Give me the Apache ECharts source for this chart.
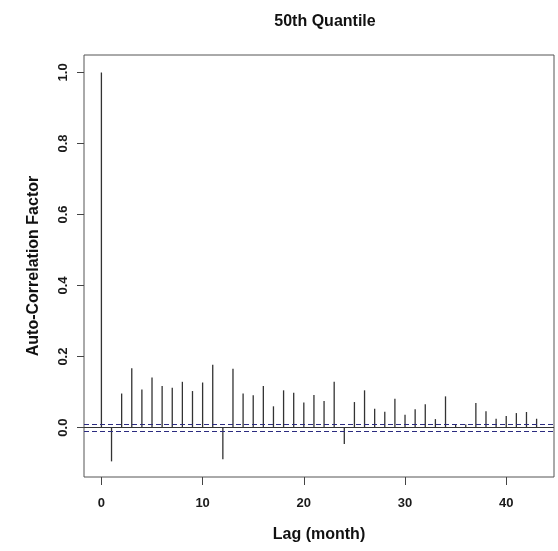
<!DOCTYPE html>
<html><head><meta charset="utf-8">
<script src="https://cdn.jsdelivr.net/npm/echarts@6/dist/echarts.min.js"></script>
<style>html,body{margin:0;padding:0;background:#fff}#c{width:558px;height:551px}</style>
</head><body><div id="c"></div>
<script>
const titleText = '50th Quantile';
const xName = 'Lag (month)';
const yName = 'Auto-Correlation Factor';
const lags = [0,1,2,3,4,5,6,7,8,9,10,11,12,13,14,15,16,17,18,19,20,21,22,23,24,25,26,27,28,29,30,31,32,33,34,35,36,37,38,39,40,41,42,43];
const acf = [1.0,-0.095,0.096,0.167,0.107,0.141,0.117,0.112,0.129,0.103,0.127,0.177,-0.089,0.166,0.096,0.091,0.117,0.060,0.105,0.098,0.071,0.092,0.075,0.129,-0.046,0.072,0.105,0.053,0.045,0.081,0.036,0.052,0.066,0.024,0.088,0.008,0.009,0.069,0.046,0.025,0.033,0.041,0.044,0.025];
const ciBound = 0.013;
const xTicks = [0,10,20,30,40];
const yTicks = [0,0.2,0.4,0.6,0.8,1.0];

const chart = echarts.init(document.getElementById('c'));
const font = 'Liberation Sans, Arial, sans-serif';
chart.setOption({
  backgroundColor: '#fff',
  animation: false,
  title: { text: titleText, left: 320, top: 9, textAlign: 'center',
    textStyle: { fontFamily: font, fontSize: 16, fontWeight: 'bold', color: '#111' } },
  grid: { left: 84, right: 4, top: 55, bottom: 74, show: true, borderColor: '#555', borderWidth: 1, backgroundColor: 'transparent' },
  xAxis: {
    type: 'value', min: -1.72, max: 44.72,
    name: xName, nameLocation: 'middle', nameGap: 50,
    nameTextStyle: { fontFamily: font, fontSize: 16, fontWeight: 'bold', color: '#111' },
    axisLine: { show: false, onZero: false },
    splitLine: { show: false },
    axisTick: { show: true, inside: false, length: 8, customValues: xTicks, lineStyle: { color: '#444' } },
    axisLabel: { customValues: xTicks, margin: 20, fontFamily: font, fontSize: 13, fontWeight: 'bold', color: '#1a1a1a',
      formatter: v => String(v) }
  },
  yAxis: {
    type: 'value', min: -0.139, max: 1.049,
    name: yName, nameLocation: 'middle', nameGap: 42, nameRotate: 90,
    nameTextStyle: { fontFamily: font, fontSize: 16, fontWeight: 'bold', color: '#111' },
    axisLine: { show: false, onZero: false },
    splitLine: { show: false },
    axisTick: { show: true, inside: false, length: 7, customValues: yTicks, lineStyle: { color: '#444' } },
    axisLabel: { customValues: yTicks, rotate: 90, margin: 14, fontFamily: font, fontSize: 13, fontWeight: 'bold', color: '#1a1a1a',
      formatter: v => v.toFixed(1) }
  },
  series: [{
    type: 'custom',
    data: lags.map((l, i) => [l, acf[i]]),
    renderItem: function (params, api) {
      const x = api.value(0), y = api.value(1);
      const p0 = api.coord([x, 0]), p1 = api.coord([x, y]);
      return { type: 'line', shape: { x1: p0[0], y1: p0[1], x2: p1[0], y2: p1[1] },
        style: { stroke: '#333', lineWidth: 1.3 } };
    },
    markLine: {
      silent: true, symbol: 'none', label: { show: false },
      data: [
        { yAxis: 0, lineStyle: { color: '#333', type: 'solid', width: 1 } },
        { yAxis: ciBound, lineStyle: { color: '#2b2b80', type: [5, 3], width: 1 } },
        { yAxis: -ciBound, lineStyle: { color: '#2b2b80', type: [5, 3], width: 1 } }
      ]
    }
  }]
});
</script></body></html>
